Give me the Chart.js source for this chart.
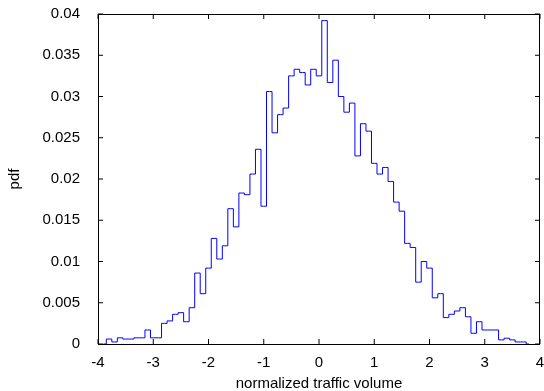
<!DOCTYPE html>
<html>
<head>
<meta charset="utf-8">
<script src="https://cdn.jsdelivr.net/npm/chart.js@4"></script>
<style>
  html, body { margin: 0; padding: 0; background: #fff; }
</style>
</head>
<body>
<canvas id="pdfChart" width="544" height="391"></canvas>
<script>
// bin centres (width 0.1) and estimated pdf per bin
const binCenters = [
    -3.9, -3.8, -3.7, -3.6, -3.5, -3.4, -3.3, -3.2, -3.1, -3.0,
    -2.9, -2.8, -2.7, -2.6, -2.5, -2.4, -2.3, -2.2, -2.1, -2.0,
    -1.9, -1.8, -1.7, -1.6, -1.5, -1.4, -1.3, -1.2, -1.1, -1.0,
    -0.9, -0.8, -0.7, -0.6, -0.5, -0.4, -0.3, -0.2, -0.1, 0.0,
    0.1, 0.2, 0.3, 0.4, 0.5, 0.6, 0.7, 0.8, 0.9, 1.0,
    1.1, 1.2, 1.3, 1.4, 1.5, 1.6, 1.7, 1.8, 1.9, 2.0,
    2.1, 2.2, 2.3, 2.4, 2.5, 2.6, 2.7, 2.8, 2.9, 3.0,
    3.1, 3.2, 3.3, 3.4, 3.5, 3.6, 3.7, 3.8
];
const pdfValues = [
    0, 0.0006, 0.00025, 0.00075, 0.0006, 0.0006, 0.00075, 0.00075, 0.0017, 0.00075,
    0.00075, 0.0025, 0.0028, 0.0036, 0.0038, 0.0027, 0.0044, 0.0086, 0.0061, 0.0092,
    0.0128, 0.0103, 0.0119, 0.0164, 0.0142, 0.0183, 0.0181, 0.0206, 0.0236, 0.0167,
    0.0306, 0.0256, 0.0278, 0.0286, 0.0325, 0.0333, 0.0329, 0.0314, 0.0333, 0.0325,
    0.0392, 0.0317, 0.0344, 0.0300, 0.0281, 0.0292, 0.0228, 0.0267, 0.0258, 0.0219,
    0.0206, 0.0214, 0.0197, 0.0172, 0.0161, 0.0122, 0.0117, 0.0075, 0.0100, 0.0092,
    0.0056, 0.0061, 0.0032, 0.0036, 0.0040, 0.0044, 0.0033, 0.0013, 0.0027, 0.0017,
    0.0017, 0.0017, 0.0005, 0.0007, 0.0005, 0.00025, 0.00025, 0
];

const xTickValues = [-4, -3, -2, -1, 0, 1, 2, 3, 4];
const xTickLabels = ['-4', '-3', '-2', '-1', '0', '1', '2', '3', '4'];
const yTickValues = [0, 0.005, 0.01, 0.015, 0.02, 0.025, 0.03, 0.035, 0.04];
const yTickLabels = ['0', '0.005', '0.01', '0.015', '0.02', '0.025', '0.03', '0.035', '0.04'];

const FONT = "'Liberation Sans', Arial, Helvetica, sans-serif";

// gnuplot style frame: box plus inward ticks on all four sides
const framePlugin = {
    id: 'frame',
    afterDatasetsDraw(chart) {
        const { ctx, chartArea: a, scales: { x, y } } = chart;
        const len = 5;
        ctx.save();
        ctx.strokeStyle = '#000';
        ctx.lineWidth = 1;
        ctx.beginPath();
        xTickValues.forEach(function (v) {
            const px = x.getPixelForValue(v);
            ctx.moveTo(px, a.bottom); ctx.lineTo(px, a.bottom - len);
            ctx.moveTo(px, a.top); ctx.lineTo(px, a.top + len);
        });
        yTickValues.forEach(function (v) {
            const py = y.getPixelForValue(v);
            ctx.moveTo(a.left, py); ctx.lineTo(a.left + len, py);
            ctx.moveTo(a.right, py); ctx.lineTo(a.right - len, py);
        });
        ctx.stroke();
        ctx.strokeRect(a.left + 0.5, a.top + 0.5, a.right - a.left - 1, a.bottom - a.top);
        ctx.restore();
    }
};

new Chart(document.getElementById('pdfChart'), {
    type: 'line',
    data: {
        datasets: [{
            data: binCenters.map(function (c, i) { return { x: c, y: pdfValues[i] }; }),
            stepped: 'middle',
            borderColor: '#0000ff',
            borderWidth: 1,
            pointRadius: 0,
            fill: false
        }]
    },
    options: {
        responsive: false,
        animation: false,
        layout: { padding: { top: 14, right: 4, bottom: 0, left: 0 } },
        plugins: {
            legend: { display: false },
            tooltip: { enabled: false }
        },
        scales: {
            x: {
                type: 'linear',
                min: -4, max: 4,
                grid: { display: false },
                border: { display: false },
                afterBuildTicks: function (scale) {
                    scale.ticks = xTickValues.map(function (v) { return { value: v }; });
                },
                afterFit: function (scale) {
                    scale.height = 47;
                    scale.paddingLeft = 0;
                    scale.paddingRight = 0;
                },
                ticks: {
                    padding: 2,
                    color: '#000',
                    font: { family: FONT, size: 15 },
                    maxRotation: 0,
                    callback: function (v) { return xTickLabels[xTickValues.indexOf(v)]; }
                },
                title: {
                    display: true,
                    text: 'normalized traffic volume',
                    color: '#000',
                    font: { family: FONT, size: 15 },
                    padding: { top: 0, bottom: -2 }
                }
            },
            y: {
                min: 0, max: 0.04,
                grid: { display: false },
                border: { display: false },
                afterBuildTicks: function (scale) {
                    scale.ticks = yTickValues.map(function (v) { return { value: v }; });
                },
                afterFit: function (scale) {
                    scale.width = 98;
                    scale.paddingTop = 0;
                    scale.paddingBottom = 0;
                },
                ticks: {
                    padding: 10,
                    color: '#000',
                    font: { family: FONT, size: 15 },
                    callback: function (v) { return yTickLabels[yTickValues.indexOf(v)]; }
                },
                title: {
                    display: true,
                    text: 'pdf',
                    color: '#000',
                    font: { family: FONT, size: 15 },
                    padding: { top: 6, bottom: 0 }
                }
            }
        }
    },
    plugins: [framePlugin]
});
</script>
</body>
</html>
